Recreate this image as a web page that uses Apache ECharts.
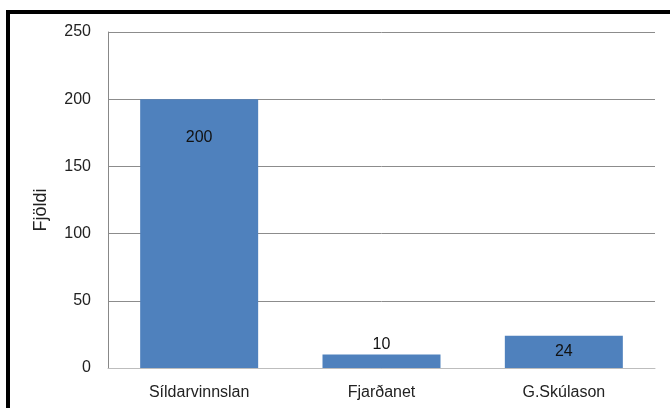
<!DOCTYPE html>
<html>
<head>
<meta charset="utf-8">
<script src="https://cdn.jsdelivr.net/npm/echarts@6/dist/echarts.min.js"></script>
<style>
  html, body { margin: 0; padding: 0; background: #fff; }
  #main { width: 670px; height: 408px; }
</style>
</head>
<body>
<div id="main"></div>
<script>
    'use strict'

    let categories = ['Síldarvinnslan', 'Fjarðanet', 'G.Skúlason'];
    let values = [200, 10, 24];
    let labelPlaces = ['insideTop', 'top', 'inside'];
    let yTicks = [0, 50, 100, 150, 200, 250];

    let font = 'Liberation Sans';
    let chart = echarts.init(document.getElementById('main'));

    let option = {
        animation: false,
        textStyle: { fontFamily: font },
        grid: { left: 108, right: 15, top: 32, bottom: 40 },
        graphic: [{
            type: 'rect',
            shape: { x: 8, y: 12, width: 800, height: 600 },
            style: { fill: 'none', stroke: '#000', lineWidth: 4 },
            silent: true
        }],
        xAxis: {
            type: 'category',
            data: categories,
            axisTick: { show: false },
            axisLine: { lineStyle: { color: '#bdbdbd', width: 1 } },
            axisLabel: { color: '#222', fontSize: 16, margin: 17, fontFamily: font }
        },
        yAxis: {
            type: 'value',
            min: yTicks[0],
            max: yTicks[yTicks.length - 1],
            interval: 50,
            name: 'Fjöldi',
            nameLocation: 'middle',
            nameGap: 58,
            nameTextStyle: { color: '#222', fontSize: 18, fontFamily: font, padding: [0, 20, 0, 0] },
            axisLine: { show: true, lineStyle: { color: '#888', width: 1 } },
            axisTick: { show: false },
            axisLabel: { color: '#222', fontSize: 16, margin: 17, fontFamily: font },
            splitLine: { lineStyle: { color: '#8c8c8c', width: 1 } }
        },
        series: [{
            type: 'bar',
            barWidth: 118,
            itemStyle: { color: '#4f81bd' },
            data: values.map(function (v, i) {
                return {
                    value: v,
                    label: {
                        show: true,
                        position: labelPlaces[i],
                        distance: labelPlaces[i] === 'insideTop' ? 30 : 2,
                        color: '#111',
                        fontSize: 16,
                        fontFamily: font
                    }
                };
            })
        }]
    };

    chart.setOption(option);
</script>
</body>
</html>
